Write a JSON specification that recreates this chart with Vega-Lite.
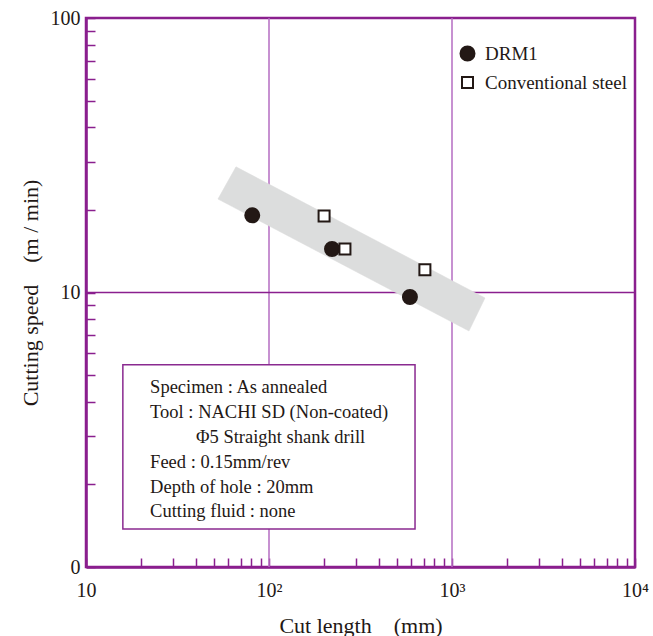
{
  "$schema": "https://vega.github.io/schema/vega-lite/v6.json",
  "autosize": {"type": "none"},
  "width": 549,
  "height": 549,
  "padding": {"left": 86, "top": 18, "right": 18, "bottom": 69},
  "background": "white",
  "config": {
    "view": {"stroke": "#8a1f8e", "strokeWidth": 2.5},
    "font": "Liberation Serif",
    "axis": {
      "domainColor": "#8a1f8e",
      "domainWidth": 2.5,
      "tickColor": "#8a1f8e",
      "tickWidth": 1.5,
      "tickSize": -9,
      "grid": false
    }
  },
  "datasets": {
    "pts": [
      {"series": "DRM1", "length": 81, "speed": 19.1},
      {"series": "DRM1", "length": 221, "speed": 14.4},
      {"series": "DRM1", "length": 589, "speed": 9.63},
      {"series": "Conventional steel", "length": 200, "speed": 19.0},
      {"series": "Conventional steel", "length": 260, "speed": 14.4},
      {"series": "Conventional steel", "length": 711, "speed": 12.1}
    ],
    "band": [
      {"o": 1, "length": 66.0, "speed": 28.7},
      {"o": 2, "length": 1515, "speed": 9.55},
      {"o": 3, "length": 1238, "speed": 7.24},
      {"o": 4, "length": 52.6, "speed": 21.9}
    ],
    "notes": [
      {"length": 22.4, "speed": 4.305, "label": "Specimen : As annealed"},
      {"length": 22.4, "speed": 3.489, "label": "Tool : NACHI SD (Non-coated)"},
      {"length": 39.9, "speed": 2.829, "label": "Φ5 Straight shank drill"},
      {"length": 22.4, "speed": 2.294, "label": "Feed : 0.15mm/rev"},
      {"length": 22.4, "speed": 1.86, "label": "Depth of hole : 20mm"},
      {"length": 22.4, "speed": 1.521, "label": "Cutting fluid : none"}
    ]
  },
  "layer": [
    {
      "data": {"values": [{"length": 100}, {"length": 1000}]},
      "mark": {"type": "rule", "color": "#b56cc2", "strokeWidth": 1.5},
      "encoding": {
        "x": {
          "field": "length", "type": "quantitative",
          "scale": {"type": "log", "domain": [10, 10000], "nice": false},
          "axis": {
            "values": [10, 20, 30, 40, 50, 60, 70, 80, 90, 100, 200, 300, 400, 500, 600, 700, 800, 900, 1000, 2000, 3000, 4000, 5000, 6000, 7000, 8000, 9000, 10000],
            "labelExpr": "datum.value == 10 ? '10' : datum.value == 100 ? '10²' : datum.value == 1000 ? '10³' : datum.value == 10000 ? '10⁴' : ''",
            "labelFont": "Liberation Serif",
            "labelFontSize": 20,
            "labelColor": "#231815",
            "labelPadding": 22,
            "labelFlush": false,
            "labelOverlap": false,
            "title": "Cut length　(mm)",
            "titleFont": "Liberation Serif",
            "titleFontSize": 22,
            "titleFontWeight": "normal",
            "titleColor": "#231815",
            "titlePadding": 15
          }
        }
      }
    },
    {
      "data": {"values": [{"speed": 10}]},
      "mark": {"type": "rule", "color": "#8a1f8e", "strokeWidth": 1.5},
      "encoding": {
        "y": {
          "field": "speed", "type": "quantitative",
          "scale": {"type": "log", "domain": [1, 100], "nice": false},
          "axis": {
            "values": [1, 2, 3, 4, 5, 6, 7, 8, 9, 10, 20, 30, 40, 50, 60, 70, 80, 90, 100],
            "labelExpr": "datum.value == 1 ? '0' : datum.value == 10 ? '10' : datum.value == 100 ? '100' : ''",
            "labelFont": "Liberation Serif",
            "labelFontSize": 20,
            "labelColor": "#231815",
            "labelPadding": 15,
            "labelFlush": false,
            "labelOverlap": false,
            "title": "Cutting speed　(m / min)",
            "titleFont": "Liberation Serif",
            "titleFontSize": 22,
            "titleFontWeight": "normal",
            "titleColor": "#231815",
            "titlePadding": 8
          }
        }
      }
    },
    {
      "data": {"name": "band"},
      "mark": {"type": "line", "interpolate": "linear-closed", "fill": "#dcdddd", "stroke": "#dcdddd", "strokeWidth": 0.5},
      "encoding": {
        "x": {"field": "length", "type": "quantitative"},
        "y": {"field": "speed", "type": "quantitative"},
        "order": {"field": "o", "type": "quantitative"}
      }
    },
    {
      "data": {"name": "pts"},
      "mark": {"type": "point", "filled": false, "stroke": "#231815", "strokeWidth": 2, "opacity": 1},
      "encoding": {
        "x": {"field": "length", "type": "quantitative"},
        "y": {"field": "speed", "type": "quantitative"},
        "shape": {
          "field": "series", "type": "nominal",
          "scale": {"domain": ["DRM1", "Conventional steel"], "range": ["circle", "square"]},
          "legend": {
            "title": null,
            "orient": "none",
            "legendX": 372,
            "legendY": 26,
            "labelFont": "Liberation Serif",
            "labelFontSize": 19,
            "labelColor": "#231815",
            "symbolStrokeColor": "#231815",
            "symbolStrokeWidth": 2,
            "rowPadding": 8,
            "labelOffset": 8,
            "padding": 0
          }
        },
        "fill": {
          "field": "series", "type": "nominal",
          "scale": {"domain": ["DRM1", "Conventional steel"], "range": ["#231815", "#ffffff"]}
        },
        "size": {
          "field": "series", "type": "nominal",
          "scale": {"domain": ["DRM1", "Conventional steel"], "range": [196, 121]}
        }
      }
    },
    {
      "data": {"values": [{"x1": 15.9, "x2": 628, "y1": 5.45, "y2": 1.375}]},
      "mark": {"type": "rect", "fill": "white", "stroke": "#8a2a90", "strokeWidth": 1.5},
      "encoding": {
        "x": {"field": "x1", "type": "quantitative"},
        "x2": {"field": "x2"},
        "y": {"field": "y1", "type": "quantitative"},
        "y2": {"field": "y2"}
      }
    },
    {
      "data": {"name": "notes"},
      "mark": {"type": "text", "align": "left", "baseline": "alphabetic", "font": "Liberation Serif", "fontSize": 18.5, "color": "#231815"},
      "encoding": {
        "x": {"field": "length", "type": "quantitative"},
        "y": {"field": "speed", "type": "quantitative"},
        "text": {"field": "label"}
      }
    }
  ]
}
